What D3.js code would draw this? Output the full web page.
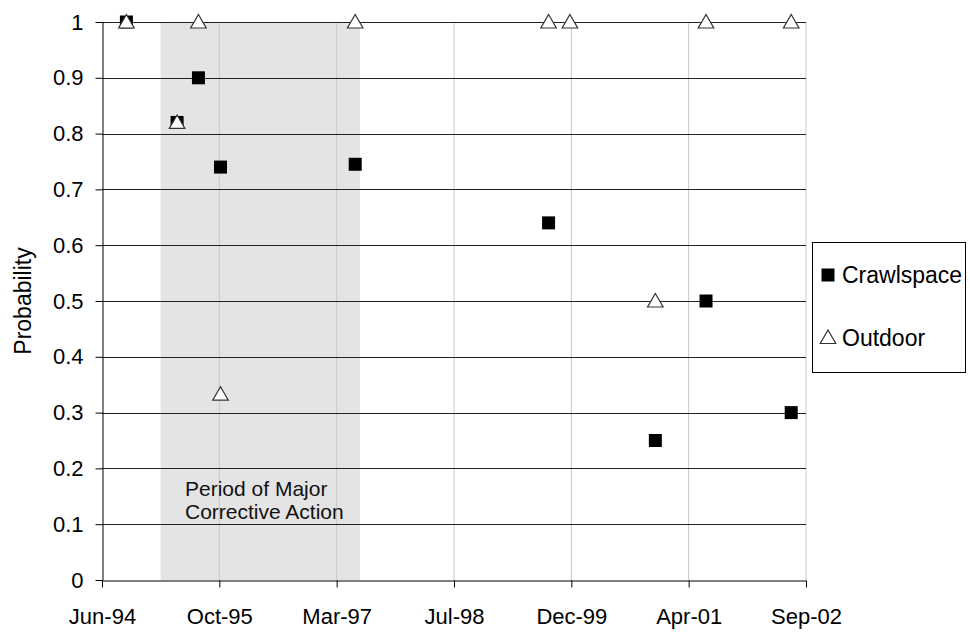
<!DOCTYPE html>
<html>
<head>
<meta charset="utf-8">
<script src="https://cdn.jsdelivr.net/npm/d3@7"></script>
<style>
  body { margin: 0; background: #fff; }
  svg { display: block; font-family: "Liberation Sans", Arial, sans-serif; }
</style>
</head>
<body>
<svg id="chart"></svg>
<script>
// sample dates and probabilities
const crawlDates = ['1994-09-27', '1995-05-01', '1995-07-31', '1995-11-02', '1997-05-29', '1999-08-31', '2000-11-28', '2001-07-02', '2002-06-30'];
const crawlValues = [1, 0.82, 0.9, 0.74, 0.745, 0.64, 0.25, 0.5, 0.3];

const outdoorDates = ['1994-09-27', '1995-05-01', '1995-07-31', '1995-11-02', '1997-05-29', '1999-08-31', '1999-11-30', '2000-11-28', '2001-07-02', '2002-06-30'];
const outdoorValues = [1, 0.82, 1, 0.333, 1, 1, 1, 0.5, 1, 1];

// excel date axis: 500 day major unit
const xTickDates = ['1994-06-15', '1995-10-28', '1997-03-11', '1998-07-24', '1999-12-06', '2001-04-19', '2002-09-01'];
const xTickLabels = ['Jun-94', 'Oct-95', 'Mar-97', 'Jul-98', 'Dec-99', 'Apr-01', 'Sep-02'];
const yTicks = [0, 0.1, 0.2, 0.3, 0.4, 0.5, 0.6, 0.7, 0.8, 0.9, 1];

const correctivePeriod = ['1995-02-20', '1997-06-18'];
const seriesNames = ['Crawlspace', 'Outdoor'];

const parse = d3.utcParse('%Y-%m-%d');

const width = 970;
const height = 633;
const margin = { top: 22, right: 164, bottom: 53, left: 102 };

const x = d3.scaleUtc()
    .domain([parse(xTickDates[0]), parse(xTickDates[xTickDates.length - 1])])
    .range([margin.left, width - margin.right]);

const y = d3.scaleLinear()
    .domain([0, 1])
    .range([height - margin.bottom, margin.top]);

const svg = d3.select('#chart')
    .attr('width', width)
    .attr('height', height);

// shaded period
svg.append('rect')
    .attr('x', x(parse(correctivePeriod[0])))
    .attr('y', y(1))
    .attr('width', x(parse(correctivePeriod[1])) - x(parse(correctivePeriod[0])))
    .attr('height', y(0) - y(1))
    .attr('fill', '#e4e4e4');

// vertical gridlines
svg.append('g')
  .selectAll('line')
  .data(xTickDates.slice(1))
  .enter().append('line')
    .attr('x1', d => x(parse(d)))
    .attr('x2', d => x(parse(d)))
    .attr('y1', y(1))
    .attr('y2', y(0))
    .attr('stroke', '#c8c8c8')
    .attr('stroke-width', 1);

// horizontal gridlines
svg.append('g')
  .selectAll('line')
  .data(yTicks.slice(1))
  .enter().append('line')
    .attr('x1', x.range()[0])
    .attr('x2', x.range()[1])
    .attr('y1', d => Math.round(y(d)) + 0.5)
    .attr('y2', d => Math.round(y(d)) + 0.5)
    .attr('stroke', '#222')
    .attr('stroke-width', 1);

const xAxis = d3.axisBottom(x)
    .tickValues(xTickDates.map(parse))
    .tickFormat((d, i) => xTickLabels[i])
    .tickSize(7)
    .tickSizeOuter(0)
    .tickPadding(21);

const yAxis = d3.axisLeft(y)
    .tickValues(yTicks)
    .tickFormat(d3.format('~g'))
    .tickSize(7)
    .tickSizeOuter(0)
    .tickPadding(12);

svg.append('g')
    .attr('class', 'x axis')
    .attr('transform', `translate(0,${Math.round(y(0)) + 0.5})`)
    .call(xAxis);

svg.append('g')
    .attr('class', 'y axis')
    .attr('transform', `translate(${margin.left + 0.5},0)`)
    .call(yAxis);

svg.selectAll('.axis path, .axis line').attr('stroke', '#000');
svg.selectAll('.axis text')
    .attr('fill', '#000')
    .style('font-size', '22px');

svg.append('text')
    .attr('transform', `translate(23,${(y(0) + y(1)) / 2}) rotate(-90)`)
    .attr('text-anchor', 'middle')
    .attr('dy', '0.35em')
    .style('font-size', '23px')
    .text('Probability');

// annotation
const note = svg.append('text')
    .attr('x', 185)
    .attr('y', 496)
    .style('font-size', '21px')
    .attr('fill', '#111');
note.append('tspan').attr('x', 185).text('Period of Major');
note.append('tspan').attr('x', 185).attr('dy', 23).text('Corrective Action');

const sq = 13;
const triangle = d3.symbol().type(d3.symbolTriangle).size(105);

// crawlspace squares
svg.append('g')
  .selectAll('rect')
  .data(crawlDates.map((d, i) => ({ date: parse(d), value: crawlValues[i] })))
  .enter().append('rect')
    .attr('x', d => x(d.date) - sq / 2)
    .attr('y', d => y(d.value) - sq / 2)
    .attr('width', sq)
    .attr('height', sq)
    .attr('fill', '#000');

// outdoor triangles
svg.append('g')
  .selectAll('path')
  .data(outdoorDates.map((d, i) => ({ date: parse(d), value: outdoorValues[i] })))
  .enter().append('path')
    .attr('d', triangle)
    .attr('transform', d => `translate(${x(d.date)},${y(d.value) + 1.5})`)
    .attr('fill', '#fff')
    .attr('stroke', '#333')
    .attr('stroke-width', 1.2);

// legend
const legend = svg.append('g');
legend.append('rect')
    .attr('x', 812.5)
    .attr('y', 242.5)
    .attr('width', 153)
    .attr('height', 130)
    .attr('fill', '#fff')
    .attr('stroke', '#000');

legend.append('rect')
    .attr('x', 828 - sq / 2)
    .attr('y', 275 - sq / 2)
    .attr('width', sq)
    .attr('height', sq)
    .attr('fill', '#000');
legend.append('path')
    .attr('d', triangle)
    .attr('transform', 'translate(828,339)')
    .attr('fill', '#fff')
    .attr('stroke', '#333')
    .attr('stroke-width', 1.2);

legend.selectAll('text')
  .data(seriesNames)
  .enter().append('text')
    .attr('x', 842)
    .attr('y', (d, i) => 283 + i * 63)
    .style('font-size', '23px')
    .text(d => d);
</script>
</body>
</html>
